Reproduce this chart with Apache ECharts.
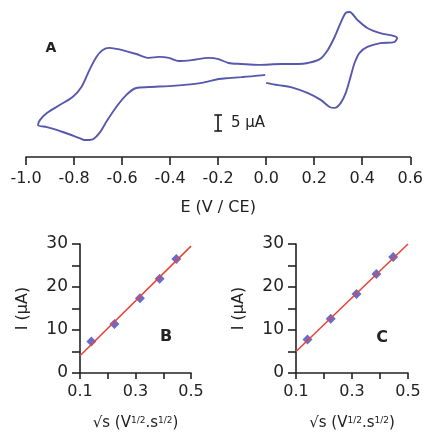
<!DOCTYPE html>
<html>
<head>
<meta charset="utf-8">
<script src="https://cdn.jsdelivr.net/npm/echarts@6/dist/echarts.min.js"></script>
<style>
  html, body { margin: 0; padding: 0; background: #fff; }
  #chart { width: 426px; height: 433px; }
</style>
</head>
<body>
<div id="chart"></div>
<script>
// panel A: cyclic voltammogram, scan starts at 0 V going negative
const cvPotential = [-0.004,-0.054,-0.103,-0.157,-0.198,-0.269,-0.351,-0.405,-0.488,-0.541,-0.583,-0.624,-0.661,-0.694,-0.719,-0.736,-0.756,-0.777,-0.847,-0.913,-0.950,
  -0.942,-0.913,-0.860,-0.806,-0.769,-0.736,-0.707,-0.682,-0.653,-0.624,-0.599,-0.541,-0.488,-0.446,-0.405,-0.364,-0.310,-0.240,-0.198,-0.157,-0.103,-0.033,
  0.062,0.132,0.174,0.223,0.256,0.285,0.310,0.331,0.347,0.380,0.421,0.475,0.533,0.545,
  0.533,0.475,0.421,0.388,0.368,0.351,0.331,0.310,0.285,0.264,0.227,0.174,0.103,0.050,0.000]
const cvCurrent = [-0.4,-0.8,-1.1,-1.4,-1.7,-2.9,-3.6,-3.9,-4.2,-4.5,-6.7,-10.4,-14.5,-18.5,-20.4,-20.7,-20.7,-20.1,-18.2,-16.7,-16.0,
  -14.5,-12.3,-9.8,-7.3,-4.2,1.1,5.2,7.3,8.0,7.7,7.3,6.1,4.9,5.2,4.9,3.9,4.2,4.9,4.5,3.3,3.0,2.7,
  3.0,3.0,3.3,4.5,7.3,11.4,15.8,18.9,19.2,16.7,14.2,12.6,11.7,11.1,
  9.8,9.5,8.3,6.4,3.3,-1.1,-6.1,-9.2,-10.7,-10.4,-8.2,-6.1,-4.2,-3.6,-2.9]

// scale bar: 5 µA
const barPotential = -0.2
const barCurrent = [-12.9, -17.9]

// panels B and C: peak current vs sqrt(scan rate)
const sqrtRate = [0.141, 0.224, 0.316, 0.387, 0.447]
const peakB = [7.3, 11.4, 17.4, 21.9, 26.5]
const peakC = [7.8, 12.6, 18.4, 23.0, 27.0]
const fitX = [0.1, 0.5]
const fitB = [4.0, 29.5]
const fitC = [5.0, 30.0]

const ink = '#222'
const font = 'DejaVu Sans'
const zip = (a, b) => a.map((v, i) => [v, b[i]])

const myChart = echarts.init(document.getElementById('chart'))

const axisLine = { onZero: false, lineStyle: { color: ink, width: 1.6 } }
const tick = len => ({ length: len, lineStyle: { color: ink, width: 1.6 } })

function smallX(grid) {
  return {
    gridIndex: grid, type: 'value', min: 0.1, max: 0.5, interval: 0.1,
    axisLine, axisTick: tick(6), splitLine: { show: false },
    axisLabel: {
      fontSize: 16, color: ink, margin: 11,
      formatter: v => (Math.round(v * 10) % 2 === 1 ? v.toFixed(1) : ''),
    },
    name: '√s (V{s|1/2}.s{s|1/2})', nameLocation: 'middle', nameGap: 43,
    nameTextStyle: { fontSize: 15, color: ink, rich: { s: { fontSize: 9, verticalAlign: 'top', color: ink } } },
  }
}
function smallY(grid) {
  return {
    gridIndex: grid, type: 'value', min: 0, max: 30, interval: 5,
    axisLine: { show: true, onZero: false, lineStyle: { color: ink, width: 1.6 } },
    axisTick: { show: true, length: 8, lineStyle: { color: ink, width: 1.6 } },
    splitLine: { show: false },
    axisLabel: { fontSize: 17, color: ink, margin: 12, formatter: v => (v % 10 === 0 ? String(v) : '') },
    name: 'I (µA)', nameLocation: 'middle', nameGap: 49,
    nameTextStyle: { fontSize: 16, color: ink },
  }
}

const option = {
  animation: false,
  textStyle: { fontFamily: font },
  grid: [
    { left: 26, width: 387, top: 3, height: 154 },
    { left: 80, width: 111, top: 244, height: 129 },
    { left: 296, width: 112, top: 244, height: 129 },
  ],
  xAxis: [
    {
      gridIndex: 0, type: 'value', min: -1.0, max: 0.6, interval: 0.2,
      axisLine, axisTick: tick(8), splitLine: { show: false },
      axisLabel: {
        fontSize: 16, color: ink, margin: 14,
        formatter: v => (Math.abs(v) < 1e-9 ? 0 : v).toFixed(1),
      },
      name: 'E (V / CE)', nameLocation: 'middle', nameGap: 43,
      nameTextStyle: { fontSize: 16, color: ink },
    },
    smallX(1),
    smallX(2),
  ],
  yAxis: [
    { gridIndex: 0, type: 'value', min: -26, max: 22, show: false },
    smallY(1),
    smallY(2),
  ],
  series: [
    {
      type: 'line', xAxisIndex: 0, yAxisIndex: 0, data: zip(cvPotential, cvCurrent),
      smooth: 0.3, symbol: 'none', clip: false,
      lineStyle: { color: '#5558ad', width: 1.9 },
    },
    {
      type: 'lines', coordinateSystem: 'cartesian2d', xAxisIndex: 0, yAxisIndex: 0,
      lineStyle: { color: '#111', width: 1.6, opacity: 1 },
      data: [
        { coords: [[barPotential, barCurrent[0]], [barPotential, barCurrent[1]]] },
        { coords: [[barPotential - 0.016, barCurrent[0]], [barPotential + 0.016, barCurrent[0]]] },
        { coords: [[barPotential - 0.016, barCurrent[1]], [barPotential + 0.016, barCurrent[1]]] },
      ],
    },
    {
      type: 'scatter', xAxisIndex: 1, yAxisIndex: 1, data: zip(sqrtRate, peakB),
      symbol: 'diamond', symbolSize: 10, itemStyle: { color: '#4248c0' }, z: 2,
    },
    {
      type: 'line', xAxisIndex: 1, yAxisIndex: 1, data: zip(fitX, fitB),
      symbol: 'none', lineStyle: { color: '#e5463a', width: 1.6 }, z: 3,
    },
    {
      type: 'scatter', xAxisIndex: 2, yAxisIndex: 2, data: zip(sqrtRate, peakC),
      symbol: 'diamond', symbolSize: 10, itemStyle: { color: '#4248c0' }, z: 2,
    },
    {
      type: 'line', xAxisIndex: 2, yAxisIndex: 2, data: zip(fitX, fitC),
      symbol: 'none', lineStyle: { color: '#e5463a', width: 1.6 }, z: 3,
    },
  ],
  graphic: [
    { type: 'text', x: 51, y: 48, style: { text: 'A', font: 'bold 14px ' + font, fill: ink, align: 'center', verticalAlign: 'middle' } },
    { type: 'text', x: 231, y: 123, style: { text: '5 µA', font: '15px ' + font, fill: ink, align: 'left', verticalAlign: 'middle' } },
    { type: 'text', x: 166, y: 337, style: { text: 'B', font: 'bold 16px ' + font, fill: ink, align: 'center', verticalAlign: 'middle' } },
    { type: 'text', x: 382, y: 338, style: { text: 'C', font: 'bold 16px ' + font, fill: ink, align: 'center', verticalAlign: 'middle' } },
  ],
}

myChart.setOption(option, true)
</script>
</body>
</html>
